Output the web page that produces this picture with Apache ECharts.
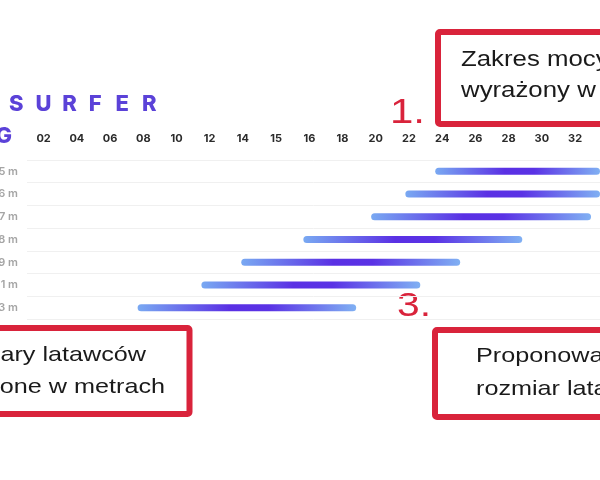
<!DOCTYPE html>
<html><head><meta charset="utf-8">
<script src="https://cdn.jsdelivr.net/npm/echarts@6/dist/echarts.min.js"></script>
<style>html,body{margin:0;padding:0;background:#fff}#c{width:600px;height:480px}</style>
</head><body><div id="c"></div>
<script>
// x-axis tick labels (wind speed, knots) - evenly spaced slots
const tickLabels = ['02','04','06','08','10','12','14','15','16','18','20','22','24','26','28','30','32','34'];
// kite sizes (rows, top to bottom)
const kiteSizes = ['5 m','6 m','7 m','8 m','9 m','11 m','13 m'];
// wind range of each kite, in tick-slot units (0 = "02", 1 = "04", ...)
const rangeStart = [11.79, 10.89, 9.86, 7.82, 5.95, 4.75, 2.83];
const rangeEnd   = [18.40, 17.45, 16.48, 14.41, 12.54, 11.34, 9.41];
const brandText = 'SURFER';
const boxTexts = {
  range: ['Zakres mocy wiatru', 'wyrażony w węzłach'],
  sizes: ['Rozmiary latawców', 'wyrażone w metrach'],
  proposed: ['Proponowany', 'rozmiar latawca']
};

const chart = echarts.init(document.getElementById('c'), null, {renderer: 'canvas'});
const RED = '#d9233b';
const barGrad = new echarts.graphic.LinearGradient(0, 0, 1, 0, [
  {offset: 0, color: '#79a9f2'},
  {offset: 0.42, color: '#5a30e4'},
  {offset: 0.6, color: '#5a32e5'},
  {offset: 1, color: '#80b0f3'}
]);

const graphics = [];
for (let i = 0; i < brandText.length; i++) {
  graphics.push({type: 'text', x: 9 + i * 26.6, y: 104, silent: true,
    style: {text: brandText[i], fill: '#5b42d8', font: '800 22px Inter', align: 'left', verticalAlign: 'middle'}});
}
graphics.push({type: 'text', x: 12, y: 136, silent: true,
  style: {text: 'NG', fill: '#5b42d8', font: '800 22px Inter', align: 'right', verticalAlign: 'middle'}});

function box(x, y, w, h) {
  return {type: 'rect', silent: true, shape: {x: x, y: y, width: w, height: h, r: 2},
    style: {fill: 'rgba(255,255,255,0)', stroke: RED, lineWidth: 6}};
}
function txt(t, x, y, size, color) {
  return {type: 'text', x: x, y: y, scaleX: 1.2, silent: true,
    style: {text: t, x: 0, y: 0, fill: color, font: size + 'px "Liberation Sans", Arial, sans-serif', align: 'left', verticalAlign: 'middle'}};
}
graphics.push(box(438, 32, 220, 92));
graphics.push(box(-20, 328, 209.5, 86));
graphics.push(box(435, 330, 220, 87));
graphics.push(txt(boxTexts.range[0], 461, 60, 21.5, '#1a1a1a'));
graphics.push(txt(boxTexts.range[1], 461, 91, 21.5, '#1a1a1a'));
graphics.push(txt(boxTexts.sizes[0], -71, 355, 21, '#1a1a1a'));
graphics.push(txt(boxTexts.sizes[1], -66, 387.5, 21, '#1a1a1a'));
graphics.push(txt(boxTexts.proposed[0], 476, 356, 21, '#1a1a1a'));
graphics.push(txt(boxTexts.proposed[1], 476, 389, 21, '#1a1a1a'));
graphics.push(txt('1.', 390, 113, 35, RED));
graphics.push(txt('3.', 397, 307, 34, RED));

const lengths = rangeEnd.map((e, i) => e - rangeStart[i]);

chart.setOption({
  backgroundColor: '#ffffff',
  animation: false,
  grid: {left: 27, right: 0, top: 160, bottom: 161, containLabel: false, outerBoundsMode: 'none'},
  xAxis: {
    type: 'value', position: 'top', min: -0.5, max: 16.75, interval: 0.5,
    axisLine: {show: false}, axisTick: {show: false}, splitLine: {show: false},
    axisLabel: {
      margin: 16, color: '#2b2b2b', fontFamily: 'Inter', fontWeight: 700, fontSize: 11,
      showMaxLabel: false, showMinLabel: false, hideOverlap: false,
      formatter: function (v) {
        const r = Math.round(v);
        return Math.abs(v - r) < 1e-6 && r >= 0 && r < tickLabels.length ? tickLabels[r] : '';
      }
    }
  },
  yAxis: {
    type: 'category', inverse: true, data: kiteSizes,
    axisLine: {show: false}, axisTick: {show: false},
    splitLine: {show: true, lineStyle: {color: '#f0f0f0', width: 1}},
    axisLabel: {margin: 9, color: '#a5a5a5', fontFamily: 'Inter', fontWeight: 600, fontSize: 11}
  },
  series: [
    {type: 'bar', stack: 'r', data: rangeStart, barWidth: 7, silent: true,
      itemStyle: {color: 'rgba(0,0,0,0)'}},
    {type: 'bar', stack: 'r', data: lengths, barWidth: 7, silent: true,
      itemStyle: {color: barGrad, borderRadius: 3.5}}
  ],
  graphic: graphics
});
</script></body></html>
